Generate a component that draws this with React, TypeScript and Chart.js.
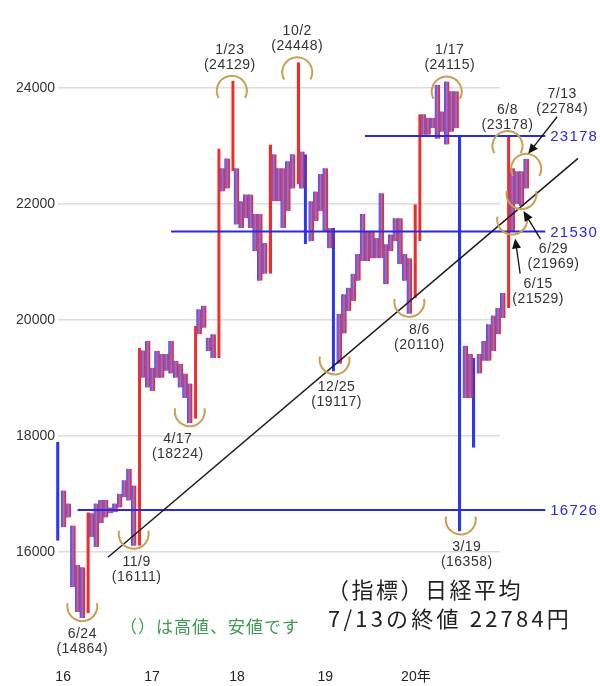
import { useEffect, useRef } from 'react';
import { Chart, registerables } from 'chart.js';

Chart.register(...registerables);

// Price bars (low / high), one per slot, oldest first
const barLow = [
  16200, 16430, 16600, 15400, 14970, 14864, 14950, 16260, 16090, 16500,
  16600, 16670, 16690, 16770, 16950, 16890, 16111, 16111, 19010, 18840,
  18780, 19010, 19010, 19130, 19080, 19010, 18840, 18660, 18224, 18300,
  19760, 19870, 19470, 19350, 19350, 22220, 22270, 22570, 21650, 21590,
  21760, 21590, 21190, 20680, 20800, 20800, 22050, 22050, 21590, 21880,
  22270, 22340, 22270, 21310, 21360, 21710, 21880, 21540, 21240, 19117,
  19250, 19770, 20160, 20330, 20680, 21020, 21020, 21070, 21070, 21070,
  20620, 21190, 21360, 20970, 20680, 20110, 20380, 21360, 23200, 23200,
  23310, 23130, 23250, 23030, 23250, 23310, 16358, 18660, 18660, 17800,
  19080, 19300, 19300, 19470, 19760, 20040, 20210, 21529, 22000, 21969,
  22270,
];
const barHigh = [
  17900, 17065, 16840, 16460, 15780, 15740, 16690, 16670, 16840, 16900,
  16900, 16770, 16840, 17010, 17240, 17440, 17150, 19520, 19480, 19640,
  19180, 19470, 19420, 19420, 19640, 19300, 19250, 19080, 18910, 19900,
  20190, 20250, 19700, 19760, 22960, 22620, 22790, 24129, 22620, 22050,
  22170, 22170, 21830, 21830, 21330, 23030, 22860, 22620, 22620, 22740,
  22860, 24448, 22910, 22860, 22050, 22220, 22520, 22620, 21590, 21590,
  20110, 20450, 20560, 20800, 21140, 21830, 21540, 21540, 21420, 22190,
  21310, 21480, 21760, 21760, 21140, 21070, 22000, 23550, 23550, 23490,
  23490, 24060, 23600, 24115, 23950, 23950, 23200, 19560, 19420, 19350,
  19420, 19640, 19930, 20080, 20210, 20470, 23178, 22620, 22570, 22570,
  22784,
];

// Axes
const yTickValues = [16000, 18000, 20000, 22000, 24000];
const yearTickSlots = [0.9, 19.9, 38.1, 57, 76.4];
const yearTickLabels = ['16', '17', '18', '19', '20年'];

// Support / resistance levels
const levelValues = [16726, 21530, 23178];
const levelStartSlots = [4, 24, 65.5];
const levelEndSlot = 104.1;

// Trend line through the rising lows
const trendPoints = [
  { x: 10.5, y: 15914 },
  { x: 111.1, y: 22790 },
];

// Marked highs and lows
const keyDates = ['6/24', '11/9', '4/17', '1/23', '10/2', '12/25', '8/6', '1/17', '3/19', '6/8', '6/15', '6/29', '7/13'];
const keyValues = [14864, 16111, 18224, 24129, 24448, 19117, 20110, 24115, 16358, 23178, 21529, 21969, 22784];
const keySides = ['low', 'low', 'low', 'high', 'high', 'low', 'low', 'high', 'low', 'high', 'low', 'low', 'high'];

// Label placement for each marked point (pixel offsets from the point)
const keyLayout: { dx: number; dy?: number; arrow?: number[] }[] = [
  { dx: 0 },
  { dx: 3 },
  { dx: -12 },
  { dx: -2 },
  { dx: 0 },
  { dx: 2 },
  { dx: 10 },
  { dx: 3 },
  { dx: 6 },
  { dx: 0, dy: -26 },
  { dx: 26, dy: 53, arrow: [8, 42, 3, 7] },
  { dx: 32, dy: 43, arrow: [19, 33, 2, 5] },
  { dx: 36, dy: -65, arrow: [31, -42, 2, -5] },
];

const FILL = 'rgba(140, 92, 196, 0.85)';
const BLUE = '#2b36f0';
const RED = '#f22a2a';
const LEVEL_COLOR = '#2a2ae0';
const ARC_COLOR = '#c8a052';
const TALL_RANGE = 1400;

const isTall = (i: number) => barHigh[i] - barLow[i] >= TALL_RANGE;
const rises = (i: number) =>
  i > 0 && barHigh[i] - barHigh[i - 1] > barLow[i - 1] - barLow[i];

const noBorder = { left: 0, right: 0, top: 0, bottom: 0 };

const barData = barLow.map((lo, i) => ({ x: i, y: [lo, barHigh[i]] }));

const marksPlugin = {
  id: 'marks',
  afterDatasetsDraw(chart: any) {
    const ctx: any = chart.ctx;
    const xs = chart.scales.x;
    const ys = chart.scales.y;
    ctx.save();

    // level values at the right end of each level line
    ctx.font = '15px "Liberation Sans"';
    ctx.letterSpacing = '1.2px';
    ctx.fillStyle = LEVEL_COLOR;
    ctx.textAlign = 'left';
    ctx.textBaseline = 'middle';
    const lx = xs.getPixelForValue(levelEndSlot) + 5;
    levelValues.forEach((v) => ctx.fillText(String(v), lx, ys.getPixelForValue(v) + 1));

    // arcs, date/value labels and arrows
    keyDates.forEach((d, k) => {
      const v = keyValues[k];
      const side = keySides[k];
      const i = side === 'low' ? barLow.indexOf(v) : barHigh.indexOf(v);
      const px = xs.getPixelForValue(i);
      const py = ys.getPixelForValue(v);

      ctx.strokeStyle = ARC_COLOR;
      ctx.lineWidth = 2;
      ctx.beginPath();
      if (side === 'low') ctx.arc(px, py - 12, 15, -0.2, Math.PI + 0.2);
      else ctx.arc(px, py + 10, 15, Math.PI - 0.5, 2 * Math.PI + 0.5);
      ctx.stroke();

      const lay = keyLayout[k];
      const tx = px + lay.dx;
      const ty = py + (lay.dy ?? (side === 'low' ? 16 : -31));
      ctx.font = '14px "Liberation Sans"';
      ctx.letterSpacing = '0.5px';
      ctx.fillStyle = '#333';
      ctx.textAlign = 'center';
      ctx.textBaseline = 'middle';
      ctx.fillText(d, tx, ty);
      ctx.fillText(`(${v})`, tx, ty + 15);

      if (lay.arrow) {
        const [ax, ay, hx, hy] = lay.arrow;
        const x0 = px + ax, y0 = py + ay, x1 = px + hx, y1 = py + hy;
        const ang = Math.atan2(y1 - y0, x1 - x0);
        ctx.strokeStyle = '#111';
        ctx.fillStyle = '#111';
        ctx.lineWidth = 1.3;
        ctx.beginPath();
        ctx.moveTo(x0, y0);
        ctx.lineTo(x1 - 6 * Math.cos(ang), y1 - 6 * Math.sin(ang));
        ctx.stroke();
        ctx.beginPath();
        ctx.moveTo(x1, y1);
        ctx.lineTo(x1 - 10 * Math.cos(ang) + 4.5 * Math.sin(ang), y1 - 10 * Math.sin(ang) - 4.5 * Math.cos(ang));
        ctx.lineTo(x1 - 10 * Math.cos(ang) - 4.5 * Math.sin(ang), y1 - 10 * Math.sin(ang) + 4.5 * Math.cos(ang));
        ctx.closePath();
        ctx.fill();
      }
    });

    // caption
    const last = keyDates.length - 1;
    ctx.font = '22px "Noto Sans CJK JP"';
    ctx.letterSpacing = '2.5px';
    ctx.fillStyle = '#222';
    ctx.textAlign = 'left';
    ctx.textBaseline = 'middle';
    ctx.fillText('（指標）日経平均', 327, 590);
    ctx.letterSpacing = '3.2px';
    ctx.fillText(`${keyDates[last]}の終値 ${keyValues[last]}円`, 328, 619);

    ctx.font = '17px "Noto Sans CJK JP"';
    ctx.letterSpacing = '1px';
    ctx.fillStyle = '#3d9a52';
    ctx.fillText('（）は高値、安値です', 120, 627);

    ctx.letterSpacing = '0px';
    ctx.restore();
  },
};

export default function App() {
  const ref = useRef<HTMLCanvasElement>(null);

  useEffect(() => {
    const chart = new Chart(ref.current as HTMLCanvasElement, {
      type: 'bar',
      data: {
        datasets: [
          {
            type: 'line',
            data: trendPoints,
            borderColor: '#1a1a1a',
            borderWidth: 1.5,
            pointRadius: 0,
            clip: false,
            order: 0,
          } as any,
          ...levelValues.map((v, k) => ({
            type: 'line',
            data: [
              { x: levelStartSlots[k], y: v },
              { x: levelEndSlot, y: v },
            ],
            borderColor: LEVEL_COLOR,
            borderWidth: 2,
            pointRadius: 0,
            clip: false,
            order: 0,
          })) as any[],
          {
            type: 'bar',
            data: barData,
            grouped: false,
            barThickness: 5,
            borderSkipped: false,
            backgroundColor: (c: any) => (isTall(c.dataIndex) ? 'rgba(0,0,0,0)' : FILL),
            borderColor: RED,
            borderWidth: (c: any) =>
              isTall(c.dataIndex)
                ? rises(c.dataIndex)
                  ? { left: 0, right: 3, top: 0, bottom: 0 }
                  : noBorder
                : { left: 0, right: 1.6, top: 0, bottom: 0 },
            clip: false,
            order: 1,
          } as any,
          {
            type: 'bar',
            data: barData,
            grouped: false,
            barThickness: 5,
            borderSkipped: false,
            backgroundColor: 'rgba(0,0,0,0)',
            borderColor: BLUE,
            borderWidth: (c: any) =>
              isTall(c.dataIndex)
                ? rises(c.dataIndex)
                  ? noBorder
                  : { left: 3, right: 0, top: 0, bottom: 0 }
                : { left: 1.6, right: 0, top: 0, bottom: 0 },
            clip: false,
            order: 2,
          } as any,
        ],
      },
      options: {
        responsive: false,
        devicePixelRatio: 1,
        animation: false,
        layout: { padding: { top: 5, left: 0, right: 100, bottom: 0 } },
        plugins: { legend: { display: false }, tooltip: { enabled: false } },
        scales: {
          x: {
            type: 'linear',
            offset: false,
            min: -0.2,
            max: 94.4,
            grid: { display: false, drawTicks: false, offset: false },
            border: { display: false },
            afterBuildTicks: (s: any) => {
              s.ticks = yearTickSlots.map((v) => ({ value: v }));
            },
            afterFit: (s: any) => {
              s.height = 35;
            },
            ticks: {
              autoSkip: false,
              maxRotation: 0,
              padding: 18,
              color: '#222',
              font: { family: '"Liberation Sans", "Noto Sans CJK JP"', size: 14 },
              callback: (_v: any, idx: number) => yearTickLabels[idx],
            },
          },
          y: {
            type: 'linear',
            min: 14297,
            max: 25325,
            grid: { color: '#dcdcdc', lineWidth: 1.5, drawTicks: false },
            border: { display: false },
            afterBuildTicks: (s: any) => {
              s.ticks = yTickValues.map((v) => ({ value: v }));
            },
            afterFit: (s: any) => {
              s.width = 58;
            },
            ticks: {
              autoSkip: false,
              padding: 3,
              color: '#333',
              font: { family: '"Liberation Sans"', size: 14 },
              callback: (v: any) => String(v),
            },
          },
        },
      } as any,
      plugins: [marksPlugin],
    });
    return () => chart.destroy();
  }, []);

  return (
    <div style={{ position: 'absolute', left: 0, top: 0, width: 600, height: 686, background: '#fff' }}>
      <canvas ref={ref} width={600} height={686} style={{ display: 'block' }} />
    </div>
  );
}
